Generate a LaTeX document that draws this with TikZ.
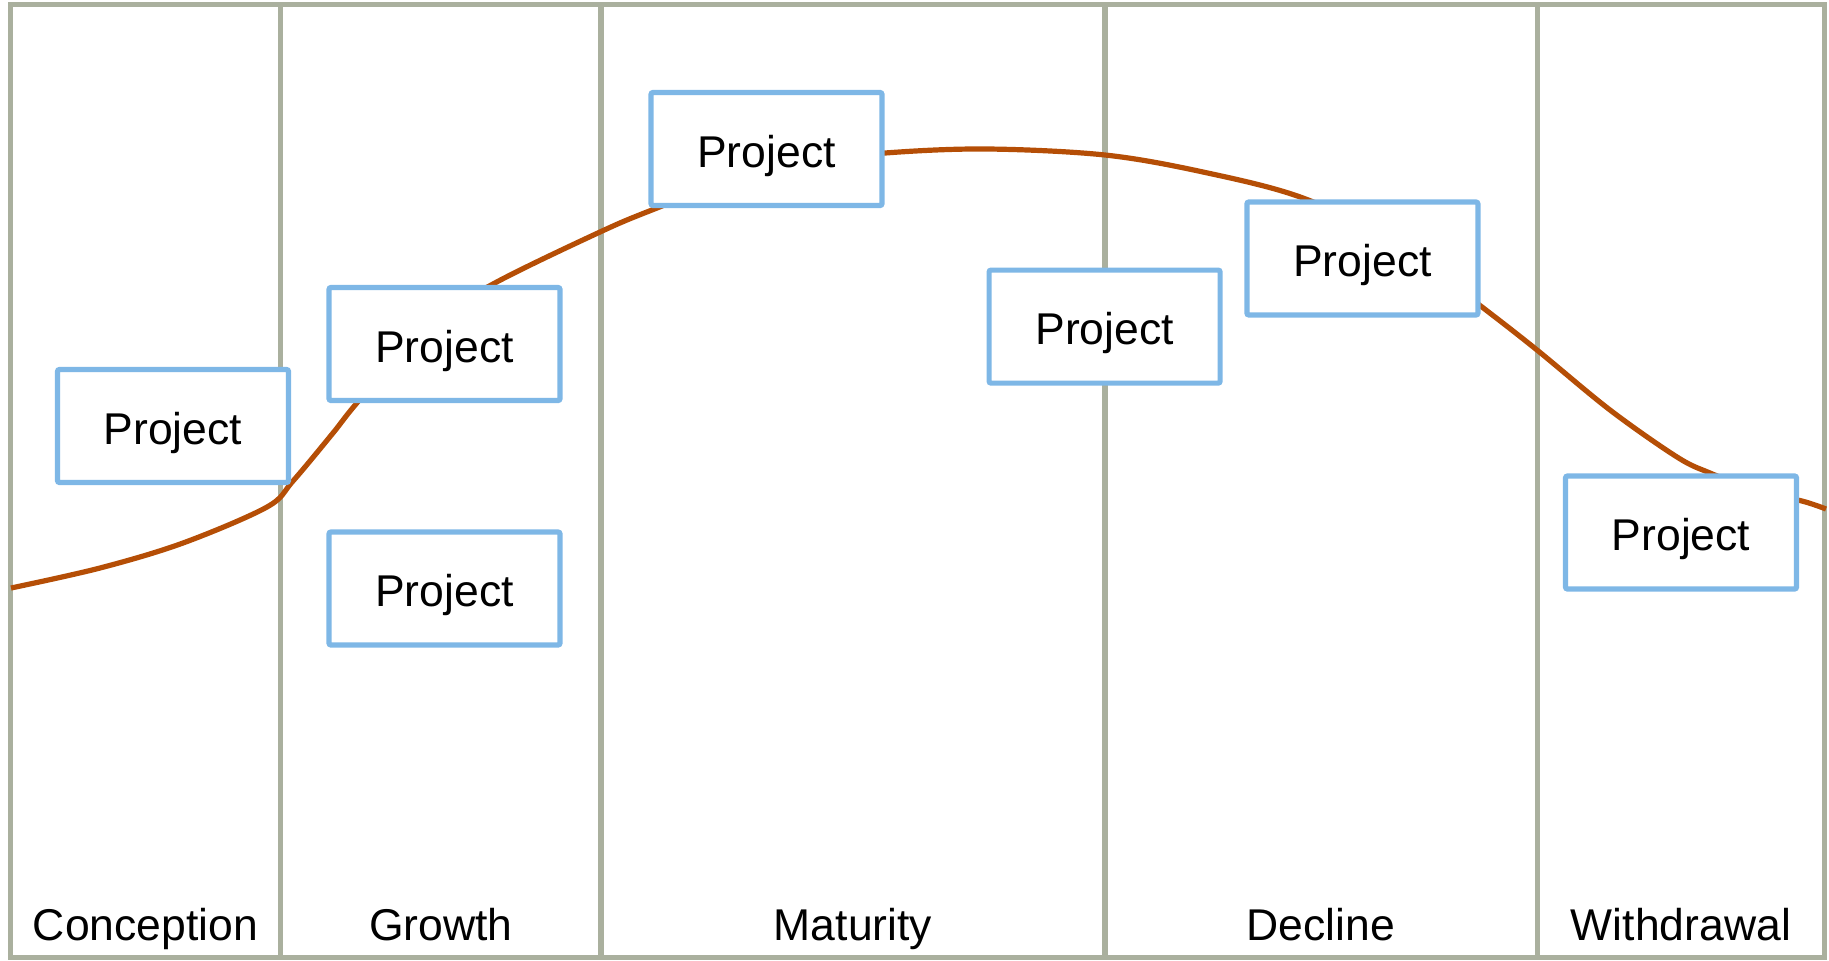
\documentclass[tikz,border=0pt]{standalone}
\usepackage{fontspec}
\setmainfont{Liberation Sans}
\definecolor{framec}{RGB}{170,176,158}
\definecolor{boxc}{RGB}{126,183,230}
\definecolor{curvec}{RGB}{181,78,6}
\begin{document}
\begin{tikzpicture}[x=0.5pt,y=-0.5pt,
  frameline/.style={draw=framec,line width=2.6pt},
  projbox/.style={draw=boxc,fill=white,line width=2.6pt,rounded corners=1pt,
    minimum width=115.5pt,minimum height=56.5pt,inner sep=0pt,
    font=\fontsize{22.25pt}{26pt}\selectfont,text height=18.2pt,text depth=0pt},
  phase/.style={anchor=base,font=\fontsize{22.25pt}{26pt}\selectfont,inner sep=0pt},
  lifecurve/.style={draw=curvec,line width=2.6pt}]
\useasboundingbox (0,0) rectangle (1829,960);
% frame and dividers
\draw[frameline] (10.5,4.5) rectangle (1824.5,957.5);
\foreach \xx in {280.5,601,1105,1537.5}
  \draw[frameline] (\xx,4.5) -- (\xx,957.5);
% phase labels
\node[phase] (l1) at (145.5,940) {Conception};
\node[phase] (l2) at (441,940) {Growth};
\node[phase] (l3) at (853,940) {Maturity};
\node[phase] (l4) at (1321,940) {Decline};
\node[phase] (l5) at (1681,940) {Withdrawal};
% life-cycle curve
\draw[lifecurve] plot[smooth,tension=0.55] coordinates {
  (11,588) (100,568) (183,543) (267,507) (293,481) (333,433) (356,404)
  (420,330) (493,284) (600,232) (657,208) (770,165) (885,153) (987,149)
  (1105,155) (1203,172) (1303,198) (1400,245) (1482,307) (1537,350)
  (1610,410) (1677,457) (1710,473) (1760,492) (1802,501) (1826,509)};
% project boxes
\node[projbox] (b1) at (173,426) {Project};
\node[projbox] (b2) at (444.5,344) {Project};
\node[projbox] (b3) at (444.5,588.5) {Project};
\node[projbox] (b4) at (766.5,149) {Project};
\node[projbox] (b5) at (1104.6,326.6) {Project};
\node[projbox] (b6) at (1362.4,258.5) {Project};
\node[projbox] (b7) at (1681,532.5) {Project};
\end{tikzpicture}
\end{document}
